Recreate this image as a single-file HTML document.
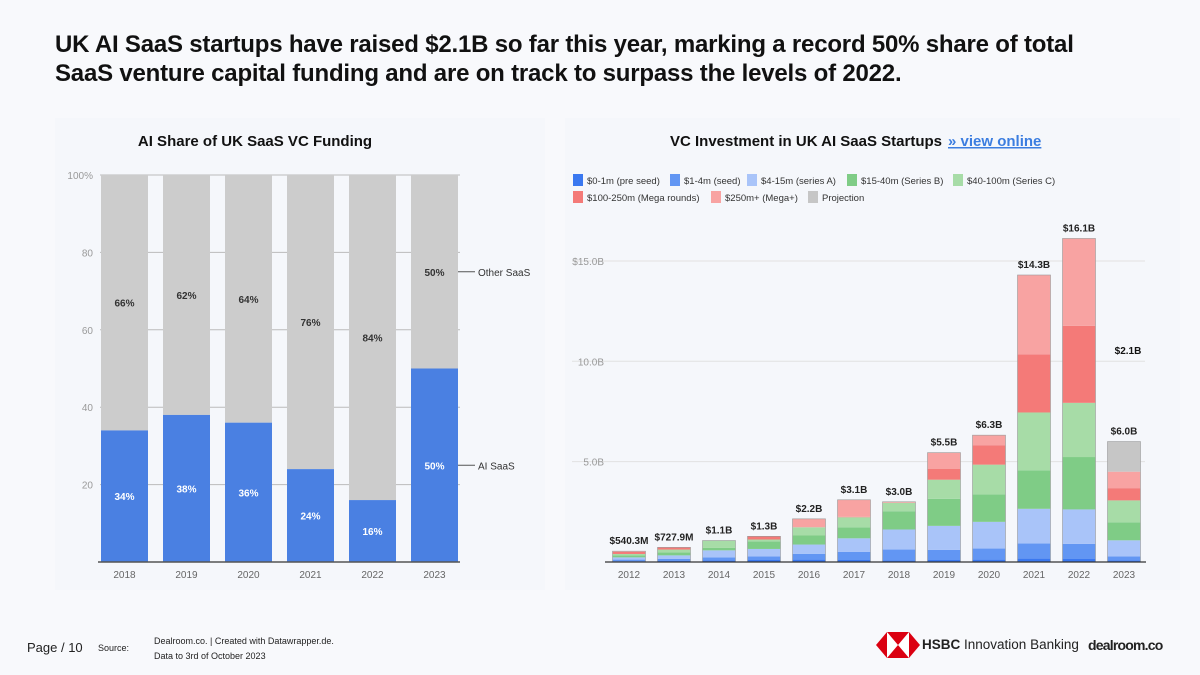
<!DOCTYPE html>
<html><head><meta charset="utf-8">
<style>
body{margin:0;width:1200px;height:675px;background:#f8f9fc;font-family:"Liberation Sans",sans-serif;overflow:hidden;position:relative}
.title{position:absolute;left:55px;top:30px;font-size:24px;font-weight:bold;color:#111;line-height:29px;letter-spacing:-0.2px}
svg{position:absolute;left:0;top:0}
.foot{position:absolute;font-size:11px;color:#222}
</style></head><body>
<div class="title">UK AI SaaS startups have raised $2.1B so far this year, marking a record 50% share of total<br>SaaS venture capital funding and are on track to surpass the levels of 2022.</div>
<svg id="s" width="1200" height="675">
<rect x="55" y="118" width="490" height="472" fill="#f5f7fb"/>
<rect x="565" y="118" width="615" height="472" fill="#f5f7fb"/>
<text x="255" y="146" text-anchor="middle" font-size="15" font-weight="bold" fill="#111">AI Share of UK SaaS VC Funding</text>
<text x="670" y="146" font-size="15" font-weight="bold" fill="#111">VC Investment in UK AI SaaS Startups</text>
<text x="948" y="146" font-size="15" font-weight="bold" fill="#3b7de0" text-decoration="underline">» view online</text>
<g id="left"></g><g id="right"></g>
</svg>
<div class="foot" style="left:27px;top:640px;font-size:13px">Page / 10</div>
<div class="foot" style="left:98px;top:643px;font-size:9px">Source:</div>
<div class="foot" style="left:154px;top:634px;font-size:9px;line-height:15px">Dealroom.co. | Created with Datawrapper.de.<br>Data to 3rd of October 2023</div>
<svg style="left:876px;top:632px" width="44" height="26"><polygon points="0,13 11,0 33,0 44,13 33,26 11,26" fill="#db0011"/><polygon points="11,0 22,13 11,26" fill="#fff"/><polygon points="33,0 22,13 33,26" fill="#fff"/></svg>
<div class="foot" style="left:922px;top:637px;font-size:13.5px"><b>HSBC</b> Innovation Banking</div>
<div class="foot" style="left:1088px;top:637px;font-size:14px;font-weight:bold;letter-spacing:-0.8px">dealroom.co</div>
<script>
const leftYears=["2018","2019","2020","2021","2022","2023"];
const aiShare=[34,38,36,24,16,50];
const leftTicks=[20,40,60,80,100];
const rightYears=["2012","2013","2014","2015","2016","2017","2018","2019","2020","2021","2022","2023"];
const preSeed=[0.04,0.05,0.08,0.1,0.12,0.1,0.08,0.1,0.12,0.17,0.15,0.08];
const seed=[0.08,0.1,0.15,0.18,0.28,0.4,0.54,0.5,0.55,0.75,0.75,0.2];
const seriesA=[0.11,0.18,0.35,0.37,0.47,0.68,1.0,1.2,1.33,1.73,1.72,0.8];
const seriesB=[0.1,0.15,0.12,0.38,0.45,0.55,0.91,1.35,1.37,1.92,2.61,0.9];
const seriesC=[0.07,0.14,0.37,0.09,0.41,0.5,0.42,0.95,1.48,2.88,2.7,1.09];
const mega=[0.1,0.11,0,0.16,0,0.02,0,0.55,0.97,2.9,3.84,0.61];
const megaPlus=[0.04,0,0,0,0.42,0.85,0.05,0.8,0.5,3.95,4.35,0.82];
const projection=[0,0,0,0,0,0,0,0,0,0,0,1.5];
const totalLabels=["$540.3M","$727.9M","$1.1B","$1.3B","$2.2B","$3.1B","$3.0B","$5.5B","$6.3B","$14.3B","$16.1B","$6.0B"];
const rightTicks=[5,10,15];
const rightTickLabels=["5.0B","10.0B","$15.0B"];
const NS="http://www.w3.org/2000/svg";
function mk(p,tag,a,t){const e=document.createElementNS(NS,tag);for(const k in a)e.setAttribute(k,a[k]);if(t!=null)e.textContent=t;p.appendChild(e);return e;}
const L=document.getElementById('left');
const lx=i=>124.5+i*62, ly=v=>562-v*3.87;
leftTicks.forEach(t=>{const g=mk(L,'line',{x1:100,x2:460,y1:ly(t),y2:ly(t),stroke:'#bbb'});

const tx=mk(L,'text',{x:93,y:ly(t)+4,'text-anchor':'end','font-size':10,fill:'#999'},t===100?'100%':t);
});
aiShare.forEach((v,i)=>{const x=lx(i)-23.5;
const g=mk(L,'rect',{x:x,y:ly(100),width:47,height:ly(v)-ly(100),fill:'#cccccc'});

const b=mk(L,'rect',{x:x,y:ly(v),width:47,height:ly(0)-ly(v),fill:'#4a80e2'});

const t1=mk(L,'text',{x:lx(i),y:(ly(100)+ly(v))/2+4,'text-anchor':'middle','font-size':10,'font-weight':'bold',fill:'#333'},(100-v)+'%');

const t2=mk(L,'text',{x:lx(i),y:(ly(v)+ly(0))/2+4,'text-anchor':'middle','font-size':10,'font-weight':'bold',fill:'#fff'},v+'%');

const t3=mk(L,'text',{x:lx(i),y:578,'text-anchor':'middle','font-size':10,fill:'#666'},leftYears[i]);
});
const la=mk(L,'line',{x1:98,x2:460,y1:562,y2:562,stroke:'#555','stroke-width':1.5});

const lastV=aiShare[aiShare.length-1];
[["Other SaaS",(ly(100)+ly(lastV))/2],["AI SaaS",(ly(lastV)+ly(0))/2]].forEach(([n,y])=>{
const l=mk(L,'line',{x1:458,x2:475,y1:y,y2:y,stroke:'#555'});
const t=mk(L,'text',{x:478,y:y+4,'font-size':10,fill:'#333'},n);});
const R=document.getElementById('right');
const cols=['#3a78f0','#6296f3','#a9c4f9','#7fcc86','#a7dca7','#f47a78','#f8a3a2','#c6c6c6'];
const names=['$0-1m (pre seed)','$1-4m (seed)','$4-15m (series A)','$15-40m (Series B)','$40-100m (Series C)','$100-250m (Mega rounds)','$250m+ (Mega+)','Projection'];
const series=[preSeed,seed,seriesA,seriesB,seriesC,mega,megaPlus,projection];
const legX=[573,670,747,847,953,573,711,808],legY=[180,180,180,180,180,197,197,197];
names.forEach((n,i)=>{const r=mk(R,'rect',{x:legX[i],y:legY[i]-6,width:10,height:12,fill:cols[i]});

const t=mk(R,'text',{x:legX[i]+14,y:legY[i]+4,'font-size':9.5,fill:'#333'},n);
});
const rx=i=>629+i*45, ry=v=>562-v*20.07;
rightTicks.forEach((t,i)=>{const g=mk(R,'line',{x1:572,x2:1145,y1:ry(t),y2:ry(t),stroke:'#e2e2e2'});

const tx=mk(R,'text',{x:604,y:ry(t)+4,'text-anchor':'end','font-size':10,fill:'#999'},rightTickLabels[i]);
});
rightYears.forEach((yr,i)=>{let cum=0;
series.forEach((s,k)=>{const v=s[i];if(v<=0)return;
const r=mk(R,'rect',{x:rx(i)-16.5,y:ry(cum+v),width:33,height:ry(cum)-ry(cum+v),fill:cols[k]});
cum+=v;});
const o=mk(R,'rect',{x:rx(i)-16.5,y:ry(cum),width:33,height:ry(0)-ry(cum),fill:'none',stroke:'#999','stroke-width':0.6});

const t=mk(R,'text',{x:rx(i),y:ry(cum)-7,'text-anchor':'middle','font-size':10,'font-weight':'bold',fill:'#222'},totalLabels[i]);

const xt=mk(R,'text',{x:rx(i),y:578,'text-anchor':'middle','font-size':10,fill:'#666'},yr);
});
const ra=mk(R,'line',{x1:605,x2:1146,y1:562,y2:562,stroke:'#333','stroke-width':1.2});

const yl=mk(R,'text',{x:1128,y:354,'text-anchor':'middle','font-size':10,'font-weight':'bold',fill:'#111'},'$2.1B');

</script>
</body></html>
